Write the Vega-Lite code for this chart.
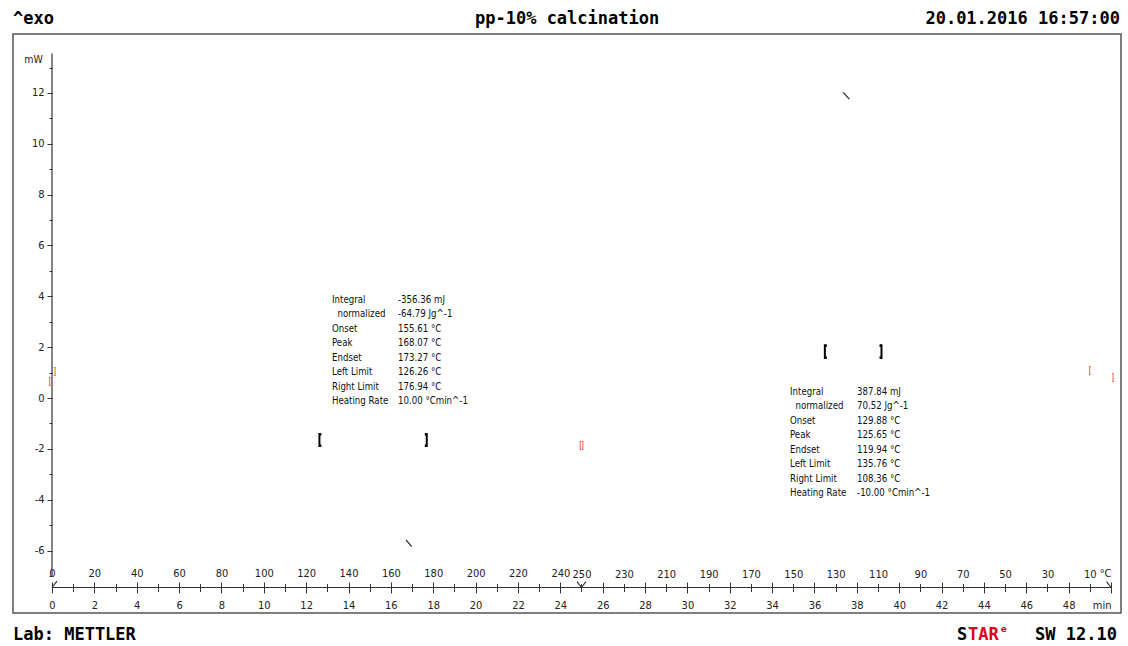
{
  "$schema": "https://vega.github.io/schema/vega-lite/v6.json",
  "width": 1108,
  "height": 579,
  "autosize": {"type": "none"},
  "padding": {"left": 13, "top": 34, "right": 7, "bottom": 33},
  "background": "white",
  "config": {
    "view": {"stroke": "#555", "strokeWidth": 1.5},
    "axis": {"grid": false, "labelColor": "#222", "tickColor": "#333", "labelFont": "Liberation Sans Narrow, DejaVu Sans Condensed, sans-serif", "labelFontSize": 11, "labelOverlap": false, "labelFlush": false, "labelBound": false}
  },
  "datasets": {
    "ends": [
      {"t": 0.142, "v": 1.043, "s": "]"},
      {"t": -0.094, "v": 0.688, "s": "["},
      {"t": 25.0, "v": -1.849, "s": "[]"},
      {"t": 49.008, "v": 1.121, "s": "["},
      {"t": 50.094, "v": 0.826, "s": "]"}
    ],
    "lines": [
      {"t": 0, "v": -7.455, "t2": 50, "v2": -7.455},
      {"t": 0, "v": -7.0, "t2": 0, "v2": 13.55},
      {"t": 0, "v": -7.455, "t2": 0.236, "v2": -7.2},
      {"t": 24.79, "v": -7.22, "t2": 25, "v2": -7.455},
      {"t": 25, "v": -7.455, "t2": 25.21, "v2": -7.22},
      {"t": 49.79, "v": -7.22, "t2": 50, "v2": -7.455},
      {"t": 16.716, "v": -5.586, "t2": 16.985, "v2": -5.85},
      {"t": 37.347, "v": 12.026, "t2": 37.644, "v2": 11.763}
    ],
    "limits": [
      {"t": 12.626, "v": -1.377, "v2": -1.928},
      {"t": 17.694, "v": -1.377, "v2": -1.928},
      {"t": 36.49, "v": 2.112, "v2": 1.534},
      {"t": 39.164, "v": 2.112, "v2": 1.534}
    ],
    "nubs": [
      {"t": 12.626, "t2": 12.72, "v": -1.43},
      {"t": 12.626, "t2": 12.72, "v": -1.875},
      {"t": 17.694, "t2": 17.6, "v": -1.43},
      {"t": 17.694, "t2": 17.6, "v": -1.875},
      {"t": 36.49, "t2": 36.585, "v": 2.06},
      {"t": 36.49, "t2": 36.585, "v": 1.59},
      {"t": 39.164, "t2": 39.07, "v": 2.06},
      {"t": 39.164, "t2": 39.07, "v": 1.59}
    ],
    "tables": [
      {"t": 13.22, "tv": 16.336, "v": 3.855, "labels": "Integral\n\u200b\u00a0\u00a0normalized\nOnset\nPeak\nEndset\nLeft Limit\nRight Limit\nHeating Rate", "values": "-356.36 mJ\n-64.79 Jg^-1\n155.61 °C\n168.07 °C\n173.27 °C\n126.26 °C\n176.94 °C\n10.00 °Cmin^-1"},
      {"t": 34.844, "tv": 38.008, "v": 0.236, "labels": "Integral\n\u200b\u00a0\u00a0normalized\nOnset\nPeak\nEndset\nLeft Limit\nRight Limit\nHeating Rate", "values": "387.84 mJ\n70.52 Jg^-1\n129.88 °C\n125.65 °C\n119.94 °C\n135.76 °C\n108.36 °C\n-10.00 °Cmin^-1"}
    ],
    "headLeft": [
      {"t": -1.841, "v": 14.909, "s": "^exo"},
      {"t": -1.841, "v": -9.323, "s": "Lab: METTLER"},
      {"t": 42.73, "v": -9.323, "s": "S"}
    ],
    "headCenter": [
      {"t": 24.32, "v": 14.909, "s": "pp-10% calcination"}
    ],
    "headRight": [
      {"t": 50.42, "v": 14.909, "s": "20.01.2016 16:57:00"},
      {"t": 50.283, "v": -9.323, "s": "SW 12.10"}
    ],
    "starRed": [
      {"t": 43.25, "v": -9.323, "s": "TAR"}
    ],
    "starSup": [
      {"t": 44.8, "v": -9.08, "s": "e"}
    ]
  },
  "encoding": {
    "x": {"field": "t", "type": "quantitative", "scale": {"domain": [-1.841, 50.472], "nice": false, "zero": false}, "axis": null},
    "y": {"field": "v", "type": "quantitative", "scale": {"domain": [-8.458, 14.32], "nice": false, "zero": false}, "axis": null}
  },
  "resolve": {"axis": {"x": "independent", "y": "independent"}},
  "layer": [
    {
      "data": {"name": "ends"},
      "mark": {"type": "text", "color": "#e8252a", "font": "Liberation Sans", "fontSize": 8.5, "align": "center", "baseline": "middle"},
      "encoding": {
        "x": {"field": "t", "type": "quantitative", "scale": {"domain": [-1.841, 50.472], "nice": false, "zero": false},
          "axis": {"orient": "bottom", "offset": -25.5, "domain": false, "title": null,
            "values": [0,1,2,3,4,5,6,7,8,9,10,11,12,13,14,15,16,17,18,19,20,21,22,23,24,25,26,27,28,29,30,31,32,33,34,35,36,37,38,39,40,41,42,43,44,45,46,47,48,49,50],
            "labelExpr": "datum.value==50 ? 'min' : (datum.value%2==0 ? ''+datum.value : '')",
            "labelAlign": {"condition": {"test": "datum.value==50", "value": "right"}, "value": "center"},
            "tickSize": {"condition": {"test": "datum.value%2==0", "value": 5.5}, "value": 4},
            "labelPadding": 6}},
        "y": {"field": "v", "type": "quantitative", "scale": {"domain": [-8.458, 14.32], "nice": false, "zero": false},
          "axis": {"orient": "left", "offset": -39, "domain": false,
            "values": [-7,-6,-5,-4,-3,-2,-1,0,1,2,3,4,5,6,7,8,9,10,11,12,13],
            "labelExpr": "datum.value%2==0 ? ''+datum.value : ''",
            "tickSize": {"condition": {"test": "datum.value%2==0", "value": 5}, "value": 3},
            "labelPadding": 3,
            "title": "mW", "titleAngle": 0, "titleX": -19, "titleY": 25, "titleAlign": "center", "titleBaseline": "middle",
            "titleFont": "Liberation Sans Narrow, DejaVu Sans Condensed, sans-serif", "titleFontSize": 10.5, "titleFontWeight": "normal", "titleColor": "#222"}},
        "text": {"field": "s", "type": "nominal"}
      }
    },
    {
      "data": {"name": "lines"},
      "mark": {"type": "rule", "color": "#333", "strokeWidth": 1.2},
      "encoding": {
        "x": {"field": "t", "type": "quantitative", "scale": {"domain": [-1.841, 50.472], "nice": false, "zero": false},
          "axis": {"orient": "top", "offset": -553.5, "domain": false, "title": null,
            "values": [0,1,2,3,4,5,6,7,8,9,10,11,12,13,14,15,16,17,18,19,20,21,22,23,24,25,26,27,28,29,30,31,32,33,34,35,36,37,38,39,40,41,42,43,44,45,46,47,48,49,50],
            "labelExpr": "datum.value==50 ? '°C' : datum.value==25 ? '250' : datum.value<25 ? (datum.value%2==0 ? ''+(datum.value*10) : '') : (datum.value%2==1 ? ''+(500-datum.value*10) : '')",
            "labelAlign": {"condition": {"test": "datum.value==50", "value": "right"}, "value": "center"},
            "tickSize": {"condition": {"test": "datum.value%2==0", "value": 5.5}, "value": 4},
            "labelPadding": 4}},
        "x2": {"field": "t2"},
        "y2": {"field": "v2"}
      }
    },
    {
      "data": {"name": "limits"},
      "mark": {"type": "rule", "color": "#000", "strokeWidth": 2},
      "encoding": {"y2": {"field": "v2"}}
    },
    {
      "data": {"name": "nubs"},
      "mark": {"type": "rule", "color": "#000", "strokeWidth": 2.5},
      "encoding": {"x2": {"field": "t2"}}
    },
    {
      "data": {"name": "tables"},
      "mark": {"type": "text", "align": "left", "baseline": "middle", "lineBreak": "\n", "lineHeight": 14.43, "font": "Liberation Sans Narrow, DejaVu Sans Condensed, sans-serif", "fontSize": 9.6, "color": "#111"},
      "encoding": {"text": {"field": "labels", "type": "nominal"}}
    },
    {
      "data": {"name": "tables"},
      "mark": {"type": "text", "align": "left", "baseline": "middle", "lineBreak": "\n", "lineHeight": 14.43, "font": "Liberation Sans Narrow, DejaVu Sans Condensed, sans-serif", "fontSize": 9.6, "color": "#111"},
      "encoding": {
        "x": {"field": "tv", "type": "quantitative", "scale": {"domain": [-1.841, 50.472], "nice": false, "zero": false}, "axis": null},
        "text": {"field": "values", "type": "nominal"}
      }
    },
    {
      "data": {"name": "headLeft"},
      "mark": {"type": "text", "align": "left", "baseline": "middle", "font": "DejaVu Sans Mono", "fontSize": 17, "fontWeight": "bold", "color": "#000"},
      "encoding": {"text": {"field": "s", "type": "nominal"}}
    },
    {
      "data": {"name": "headCenter"},
      "mark": {"type": "text", "align": "center", "baseline": "middle", "font": "DejaVu Sans Mono", "fontSize": 17, "fontWeight": "bold", "color": "#000"},
      "encoding": {"text": {"field": "s", "type": "nominal"}}
    },
    {
      "data": {"name": "headRight"},
      "mark": {"type": "text", "align": "right", "baseline": "middle", "font": "DejaVu Sans Mono", "fontSize": 17, "fontWeight": "bold", "color": "#000"},
      "encoding": {"text": {"field": "s", "type": "nominal"}}
    },
    {
      "data": {"name": "starRed"},
      "mark": {"type": "text", "align": "left", "baseline": "middle", "font": "DejaVu Sans Mono", "fontSize": 17, "fontWeight": "bold", "color": "#e0001b"},
      "encoding": {"text": {"field": "s", "type": "nominal"}}
    },
    {
      "data": {"name": "starSup"},
      "mark": {"type": "text", "align": "left", "baseline": "middle", "font": "DejaVu Sans", "fontSize": 9, "fontWeight": "bold", "color": "#e0001b"},
      "encoding": {"text": {"field": "s", "type": "nominal"}}
    }
  ]
}
